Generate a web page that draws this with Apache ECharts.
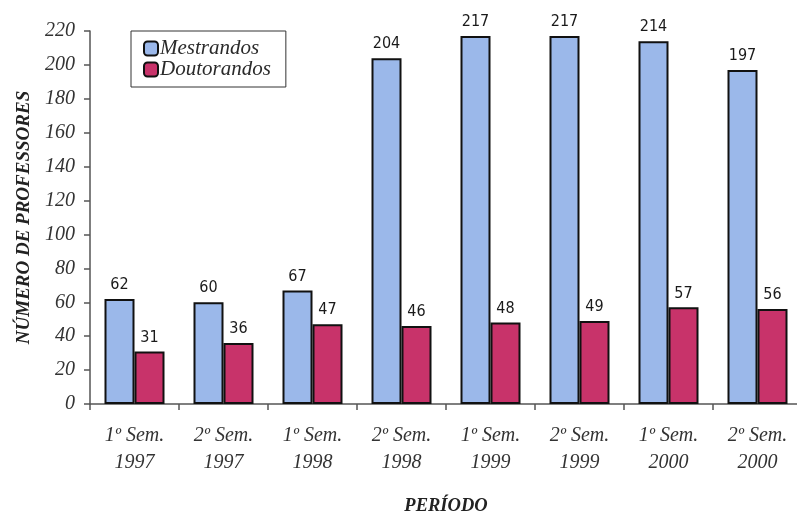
<!DOCTYPE html>
<html>
<head>
<meta charset="utf-8">
<script src="https://cdn.jsdelivr.net/npm/echarts@6/dist/echarts.min.js"></script>
<style>
  html, body { margin: 0; padding: 0; background: #fff; }
  #chart { width: 797px; height: 516px; }
</style>
</head>
<body>
<div id="chart"></div>
<script>
// Semesters shown along the horizontal axis
const periods = [
  '1º Sem.\n1997', '2º Sem.\n1997', '1º Sem.\n1998', '2º Sem.\n1998',
  '1º Sem.\n1999', '2º Sem.\n1999', '1º Sem.\n2000', '2º Sem.\n2000'
];
// Number of teachers enrolled in master's programmes
const mestrandos = [62, 60, 67, 204, 217, 217, 214, 197];
// Number of teachers enrolled in doctoral programmes
const doutorandos = [31, 36, 47, 46, 48, 49, 57, 56];
// Value axis ticks
const yMin = 0, yMax = 220, yStep = 20;

const serif = '"Liberation Serif", "Times New Roman", serif';
const sans = '"DejaVu Sans Condensed", "DejaVu Sans", Tahoma, sans-serif';

const chart = echarts.init(document.getElementById('chart'), null, { renderer: 'canvas' });

const valueLabel = {
  show: true,
  position: 'top',
  distance: 6,
  fontFamily: sans,
  fontSize: 16,
  color: '#1a1a1a'
};

chart.setOption({
  backgroundColor: '#ffffff',
  animation: false,
  grid: { left: 90, right: -5, top: 31, bottom: 112, containLabel: false, outerBoundsMode: 'none' },
  legend: {
    orient: 'vertical',
    left: 131,
    top: 31,
    padding: [7, 15, 7, 12],
    itemGap: 0,
    itemWidth: 14,
    itemHeight: 14,
    borderColor: '#333',
    borderWidth: 1,
    textStyle: { fontFamily: serif, fontStyle: 'italic', fontSize: 21, lineHeight: 21, color: '#2a2a2a', padding: [0, 0, 0, -3] },
    data: ['Mestrandos', 'Doutorandos']
  },
  xAxis: {
    type: 'category',
    data: periods,
    name: 'PERÍODO',
    nameLocation: 'middle',
    nameGap: 93,
    nameTextStyle: { fontFamily: serif, fontStyle: 'italic', fontWeight: 'bold', fontSize: 18.5, color: '#222' },
    axisLine: { lineStyle: { color: '#555', width: 1.5 } },
    axisTick: { show: true, length: 6, lineStyle: { color: '#555', width: 1.5 } },
    axisLabel: {
      margin: 18,
      lineHeight: 27,
      fontFamily: serif,
      fontStyle: 'italic',
      fontSize: 20,
      color: '#333'
    }
  },
  yAxis: {
    type: 'value',
    min: yMin,
    max: yMax,
    interval: yStep,
    name: 'NÚMERO DE PROFESSORES',
    nameLocation: 'middle',
    nameGap: 56,
    nameTextStyle: { fontFamily: serif, fontStyle: 'italic', fontWeight: 'bold', fontSize: 19, color: '#222' },
    axisLine: { show: true, lineStyle: { color: '#555', width: 1.5 } },
    axisTick: { show: true, length: 6, lineStyle: { color: '#555', width: 1.5 } },
    splitLine: { show: false },
    axisLabel: {
      margin: 15,
      fontFamily: serif,
      fontStyle: 'italic',
      fontSize: 20,
      color: '#333'
    }
  },
  series: [
    {
      name: 'Mestrandos',
      type: 'bar',
      data: mestrandos,
      barWidth: 30,
      barGap: '0%',
      itemStyle: { color: '#9bb8ea', borderColor: '#111', borderWidth: 2 },
      label: valueLabel
    },
    {
      name: 'Doutorandos',
      type: 'bar',
      data: doutorandos,
      barWidth: 30,
      itemStyle: { color: '#c8336a', borderColor: '#111', borderWidth: 2 },
      label: valueLabel
    }
  ]
});
</script>
</body>
</html>
